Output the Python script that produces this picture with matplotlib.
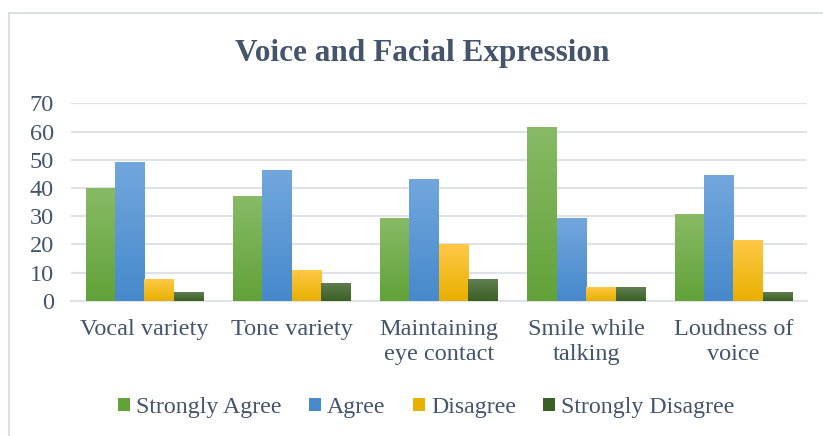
import numpy as np
import matplotlib
matplotlib.use("Agg")
import matplotlib.pyplot as plt
from matplotlib.patches import Rectangle, Patch
from matplotlib.colors import LinearSegmentedColormap

categories = ["Vocal variety", "Tone variety", "Maintaining\neye contact",
              "Smile while\ntalking", "Loudness of\nvoice"]
series_names = ["Strongly Agree", "Agree", "Disagree", "Strongly Disagree"]
strongly_agree = [40.0, 37.1, 29.4, 61.6, 30.7]
agree = [49.3, 46.3, 43.2, 29.3, 44.6]
disagree = [7.7, 10.9, 20.1, 4.9, 21.5]
strongly_disagree = [3.1, 6.4, 7.7, 4.9, 3.1]
yticks = [0, 10, 20, 30, 40, 50, 60, 70]

# (top colour, bottom colour) per series
grads = [("#88ba65", "#62a239"), ("#72a7dd", "#4689cc"),
         ("#ffc846", "#e8b000"), ("#607d52", "#3a6122")]

text_col = "#44546A"
grid_col = "#dfe3e8"
serif = ["Liberation Serif", "DejaVu Serif"]

fig = plt.figure(figsize=(8.23, 4.36), dpi=100)
ax = fig.add_axes([0.086, 0.3103, 0.8946, 0.4527])

# outer chart border
fig.patches.append(Rectangle((9 / 823, -0.05), 1.2, 1 - 13 / 436 + 0.05,
                             transform=fig.transFigure, fill=False,
                             edgecolor="#d9dde3", linewidth=1.3))

x = np.arange(len(categories))
w = 0.2
data = [strongly_agree, agree, disagree, strongly_disagree]
for i, vals in enumerate(data):
    cmap = LinearSegmentedColormap.from_list("g%d" % i, [grads[i][1], grads[i][0]])
    bars = ax.bar(x + (i - 1.5) * w, vals, w, color=grads[i][1], zorder=2)
    for b in bars:
        x0, y0 = b.get_x(), b.get_y()
        bw, bh = b.get_width(), b.get_height()
        grad = np.linspace(0, 1, 100).reshape(-1, 1)
        im = ax.imshow(grad, cmap=cmap, origin="lower", aspect="auto",
                       extent=[x0, x0 + bw, y0, y0 + bh], zorder=3)
        im.set_clip_path(b)

ax.set_xlim(-0.5, len(categories) - 0.5)
ax.set_ylim(0, 70)
ax.set_yticks(yticks)
ax.set_xticks(x)
ax.set_xticklabels(categories, fontsize=17.5, color=text_col, family=serif,
                   linespacing=1.25)
ax.set_yticklabels([str(t) for t in yticks], fontsize=17.5, color=text_col,
                   family=serif)
ax.tick_params(axis="both", length=0)
ax.tick_params(axis="x", pad=13)
ax.tick_params(axis="y", pad=12)
ax.yaxis.grid(True, color=grid_col, linewidth=1.5, zorder=0)
ax.set_axisbelow(True)
for s in ["top", "right", "left"]:
    ax.spines[s].set_visible(False)
ax.spines["bottom"].set_color(grid_col)
ax.spines["bottom"].set_linewidth(1.5)

fig.text(0.513, 0.877, "Voice and Facial Expression", ha="center", va="center",
         fontsize=22.5, fontweight="bold", color=text_col, family=serif)

handles = [Patch(facecolor=g[1], edgecolor="none") for g in grads]
fig.legend(handles, series_names, loc="center", bbox_to_anchor=(0.518, 0.065),
           ncol=4, frameon=False, handlelength=0.5, handleheight=0.5,
           handletextpad=0.25, columnspacing=1.15,
           prop={"family": serif, "size": 17.2}, labelcolor=text_col)

fig.savefig("out.png", dpi=100, facecolor="white")
